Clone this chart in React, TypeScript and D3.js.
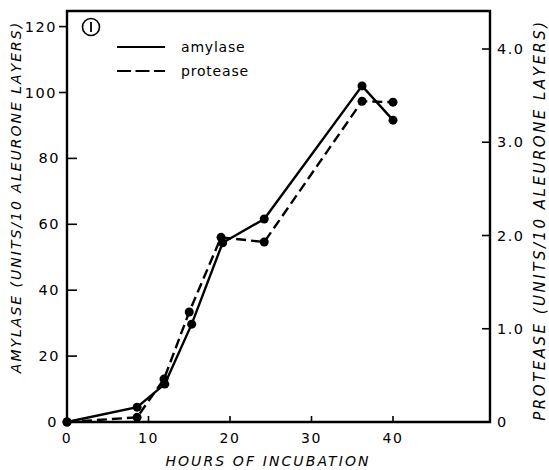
import { line, scaleLinear } from "d3";

const amylaseHours = [0, 8.6, 12, 15.3, 19.1, 24.2, 36.2, 40];
const amylaseValues = [0, 4.5, 11.5, 29.7, 54.4, 61.6, 102, 91.6];
const proteaseHours = [0, 8.6, 11.9, 15, 18.9, 24.2, 36.2, 40];
const proteaseValues = [0, 0.05, 0.46, 1.18, 1.98, 1.93, 3.44, 3.43];

const hourTicks = [0, 10, 20, 30, 40];
const amylaseTicks = [0, 20, 40, 60, 80, 100, 120];
const proteaseTicks = [0, 1, 2, 3, 4];
const proteaseTickLabels = ["0", "1.0", "2.0", "3.0", "4.0"];

const font = "'DejaVu Sans', 'Open Sans', sans-serif";

export default function App() {
  const width = 549;
  const height = 470;
  const left = 67;
  const right = 490;
  const top = 11;
  const bottom = 422;

  const x = scaleLinear().domain([0, 40]).range([left, 393]);
  const yA = scaleLinear().domain([0, 120]).range([bottom, 26.6]);
  const yP = scaleLinear().domain([0, 4]).range([bottom, 49]);

  const amylase = amylaseHours.map((h, i) => [x(h), yA(amylaseValues[i])] as [number, number]);
  const protease = proteaseHours.map((h, i) => [x(h), yP(proteaseValues[i])] as [number, number]);
  const path = line();

  return (
    <svg
      width={width}
      height={height}
      viewBox={`0 0 ${width} ${height}`}
      style={{ position: "absolute", left: 0, top: 0, background: "#fff" }}
    >
      <rect width={width} height={height} fill="#fff" />

      {/* frame */}
      <path
        d={`M ${left} ${top} H ${right} V ${bottom} H ${left} Z`}
        fill="none"
        stroke="#000"
        strokeWidth="2.4"
      />

      {/* x ticks */}
      {hourTicks.map((t) => (
        <g key={`x${t}`}>
          {t > 0 ? (
            <line x1={x(t)} x2={x(t)} y1={bottom} y2={bottom - 6} stroke="#000" strokeWidth="1.6" />
          ) : null}
          <text
            x={x(t)}
            y={443}
            textAnchor="middle"
            fontFamily={font}
            fontSize="14"
            letterSpacing="1.5"
            fill="#000"
          >
            {t}
          </text>
        </g>
      ))}
      <text
        x={268}
        y={466}
        textAnchor="middle"
        fontFamily={font}
        fontSize="14"
        fontStyle="italic"
        letterSpacing="2.1"
        fill="#000"
      >
        HOURS OF INCUBATION
      </text>

      {/* left ticks */}
      {amylaseTicks.map((t) => {
        const yy = yA(t);
        const outward = t >= 100;
        return (
          <g key={`a${t}`}>
            {t > 0 ? (
              <line
                x1={left}
                x2={outward ? left - 8 : left + 10}
                y1={yy}
                y2={yy}
                stroke="#000"
                strokeWidth="1.6"
              />
            ) : null}
            <text
              x={t === 0 ? 58 : outward ? 57 : 60}
              y={yy + 5}
              textAnchor="end"
              fontFamily={font}
              fontSize="14.5"
              letterSpacing="1.5"
              fill="#000"
            >
              {t}
            </text>
          </g>
        );
      })}
      <text
        transform={`translate(21, 197) rotate(-90)`}
        textAnchor="middle"
        fontFamily={font}
        fontSize="14"
        fontStyle="italic"
        letterSpacing="2"
        fill="#000"
      >
        AMYLASE (UNITS/10 ALEURONE LAYERS)
      </text>

      {/* right ticks */}
      {proteaseTicks.map((t, i) => {
        const yy = yP(t);
        return (
          <g key={`p${t}`}>
            {t > 0 ? (
              <line x1={right} x2={right - 8} y1={yy} y2={yy} stroke="#000" strokeWidth="1.6" />
            ) : null}
            <text
              x={497}
              y={yy + 5}
              fontFamily={font}
              fontSize="14.5"
              letterSpacing="1.5"
              fill="#000"
            >
              {proteaseTickLabels[i]}
            </text>
          </g>
        );
      })}
      <text
        transform={`translate(545, 220) rotate(-90)`}
        textAnchor="middle"
        fontFamily={font}
        fontSize="15"
        fontStyle="italic"
        letterSpacing="2.5"
        fill="#000"
      >
        PROTEASE (UNITS/10 ALEURONE LAYERS)
      </text>

      {/* series */}
      <path d={path(amylase) ?? ""} fill="none" stroke="#000" strokeWidth="2.4" />
      <path
        d={path(protease) ?? ""}
        fill="none"
        stroke="#000"
        strokeWidth="2.4"
        strokeDasharray="10 5"
      />
      {amylase.concat(protease).map(([cx, cy], i) => (
        <circle key={i} cx={cx} cy={cy} r="4.5" fill="#000" />
      ))}

      {/* legend */}
      <circle cx={91} cy={27} r={8.5} fill="none" stroke="#000" strokeWidth="1.6" />
      <line x1={91} x2={91} y1={22} y2={32} stroke="#000" strokeWidth="1.8" />
      <line x1={117} x2={165} y1={47} y2={47} stroke="#000" strokeWidth="2" />
      <text x={181} y={52} fontFamily={font} fontSize="14" letterSpacing="0.8" fill="#000">
        amylase
      </text>
      <line
        x1={117}
        x2={165}
        y1={71}
        y2={71}
        stroke="#000"
        strokeWidth="2"
        strokeDasharray="14 4.5"
      />
      <text x={181} y={76} fontFamily={font} fontSize="14" letterSpacing="0.8" fill="#000">
        protease
      </text>
    </svg>
  );
}
